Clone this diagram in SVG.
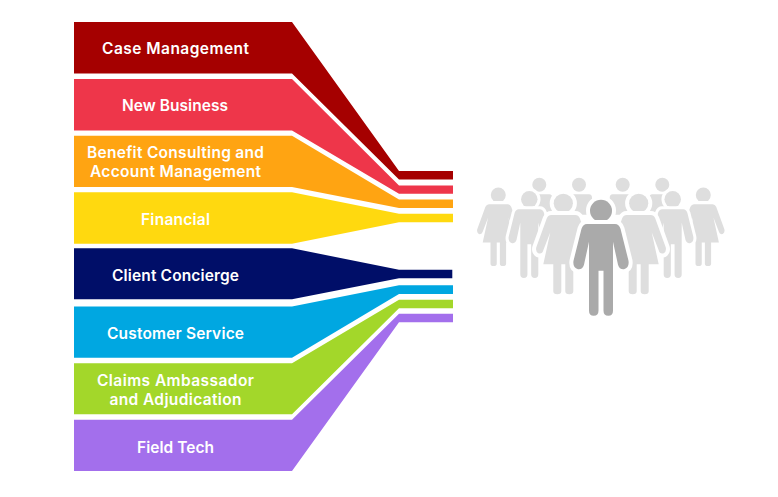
<svg xmlns="http://www.w3.org/2000/svg" width="778" height="497" viewBox="0 0 778 497">
<style>
.t{font-family:"Inter","Liberation Sans",sans-serif;font-weight:600;font-size:15.5px;fill:#fff;text-anchor:middle}
.p{stroke:#fff;stroke-width:8;paint-order:stroke;stroke-linejoin:round}
.l{fill:#dedede}
.d{fill:#aaa}
</style>
<defs>
<g id="woman"><circle r="9.6"/><path d="M-12,11.7H12Q15,11.7 16.5,15L27,44Q28,48 25,50Q21,51 20,47L13,29L20,61H10V88Q10,91 6,91Q2,91 2,88V61H-2V88Q-2,91-6,91Q-10,91-10,88V61H-20L-13,29L-20,47Q-21,51-25,50Q-28,48-27,44L-16.5,15Q-15,11.7-12,11.7Z"/></g>
<g id="man"><circle r="11"/><path d="M-14,13.3H14Q18,13.3 19.5,18L27.5,50Q28.5,57 23,58.5Q18.5,59 17,54L12,31V100Q12,105 7.3,105Q2.5,105 2.5,100V60H-2.5V100Q-2.5,105-7.3,105Q-12,105-12,100V31L-17,54Q-18.5,59-23,58.5Q-28.5,57-27.5,50L-19.5,18Q-18,13.3-14,13.3Z"/></g>
<g id="back"><circle r="7"/><path d="M-10,9.5H10Q13,9.5 13,13V30H-13V13Q-13,9.5-10,9.5Z"/></g>
</defs>
<g id="connectors"/>
<g id="case-management"><polygon fill="#a50000" points="74,22 292,22 399,171 453,171 453,179.5 399,179.5 292,73.5 74,73.5"/><text class="t" x="175.5" y="53.5" textLength="147">Case Management</text></g>
<g id="new-business"><polygon fill="#ee364a" points="74,79 292,79 399,185.5 453,185.5 453,193.8 399,193.8 292,130.5 74,130.5"/><text class="t" x="175" y="110.5" textLength="106">New Business</text></g>
<g id="benefit-consulting"><polygon fill="#ffa412" points="74,135.7 292,135.7 399,199.5 453,199.5 453,208 399,208 292,187 74,187"/><text class="t" x="175.5" y="158" textLength="177">Benefit Consulting and</text><text class="t" x="175.5" y="177" textLength="171">Account Management</text></g>
<g id="financial"><polygon fill="#ffd90f" points="74,192.3 292,192.3 399,213.8 453,213.8 453,222.3 399,222.3 292,243.7 74,243.7"/><text class="t" x="175.5" y="225" textLength="69">Financial</text></g>
<g id="client-concierge"><polygon fill="#000e68" points="74,248.3 292,248.3 399,269.7 452.3,269.7 452.3,278.3 399,278.3 292,299.3 74,299.3"/><text class="t" x="175.5" y="281" textLength="127">Client Concierge</text></g>
<g id="customer-service"><polygon fill="#00a7e1" points="74,306.5 292,306.5 399,285.3 453,285.3 453,294 399,294 292,357.7 74,357.7"/><text class="t" x="175.5" y="339" textLength="137">Customer Service</text></g>
<g id="claims-ambassador"><polygon fill="#a3d72a" points="74,363.3 292,363.3 399,299.7 453,299.7 453,308.3 399,308.3 292,414.3 74,414.3"/><text class="t" x="175.5" y="386" textLength="157">Claims Ambassador</text><text class="t" x="175.5" y="405" textLength="132">and Adjudication</text></g>
<g id="field-tech"><polygon fill="#a36fec" points="74,419.8 292,419.8 399,313.8 453,313.8 453,322.3 399,322.3 292,471 74,471"/><text class="t" x="175.5" y="453" textLength="77">Field Tech</text></g>
<g id="people">
<use href="#back" class="l" x="539.3" y="184.7"/>
<use href="#back" class="l" x="579" y="184.7"/>
<use href="#back" class="l" x="622.7" y="184.7"/>
<use href="#back" class="l" x="662.3" y="184.7"/>
<use href="#woman" class="p l" transform="translate(498.3,195) scale(.78)"/>
<use href="#woman" class="p l" transform="translate(703.3,195) scale(.78)"/>
<use href="#man" class="p l" transform="translate(529.3,199.3) scale(.75)"/>
<use href="#man" class="p l" transform="translate(672.7,199.3) scale(.75)"/>
<use href="#woman" class="p l" transform="translate(563.3,203.3)"/>
<use href="#woman" class="p l" transform="translate(638.7,203.3)"/>
<use href="#man" class="p d" transform="translate(601,210.7)"/>
</g>
</svg>
